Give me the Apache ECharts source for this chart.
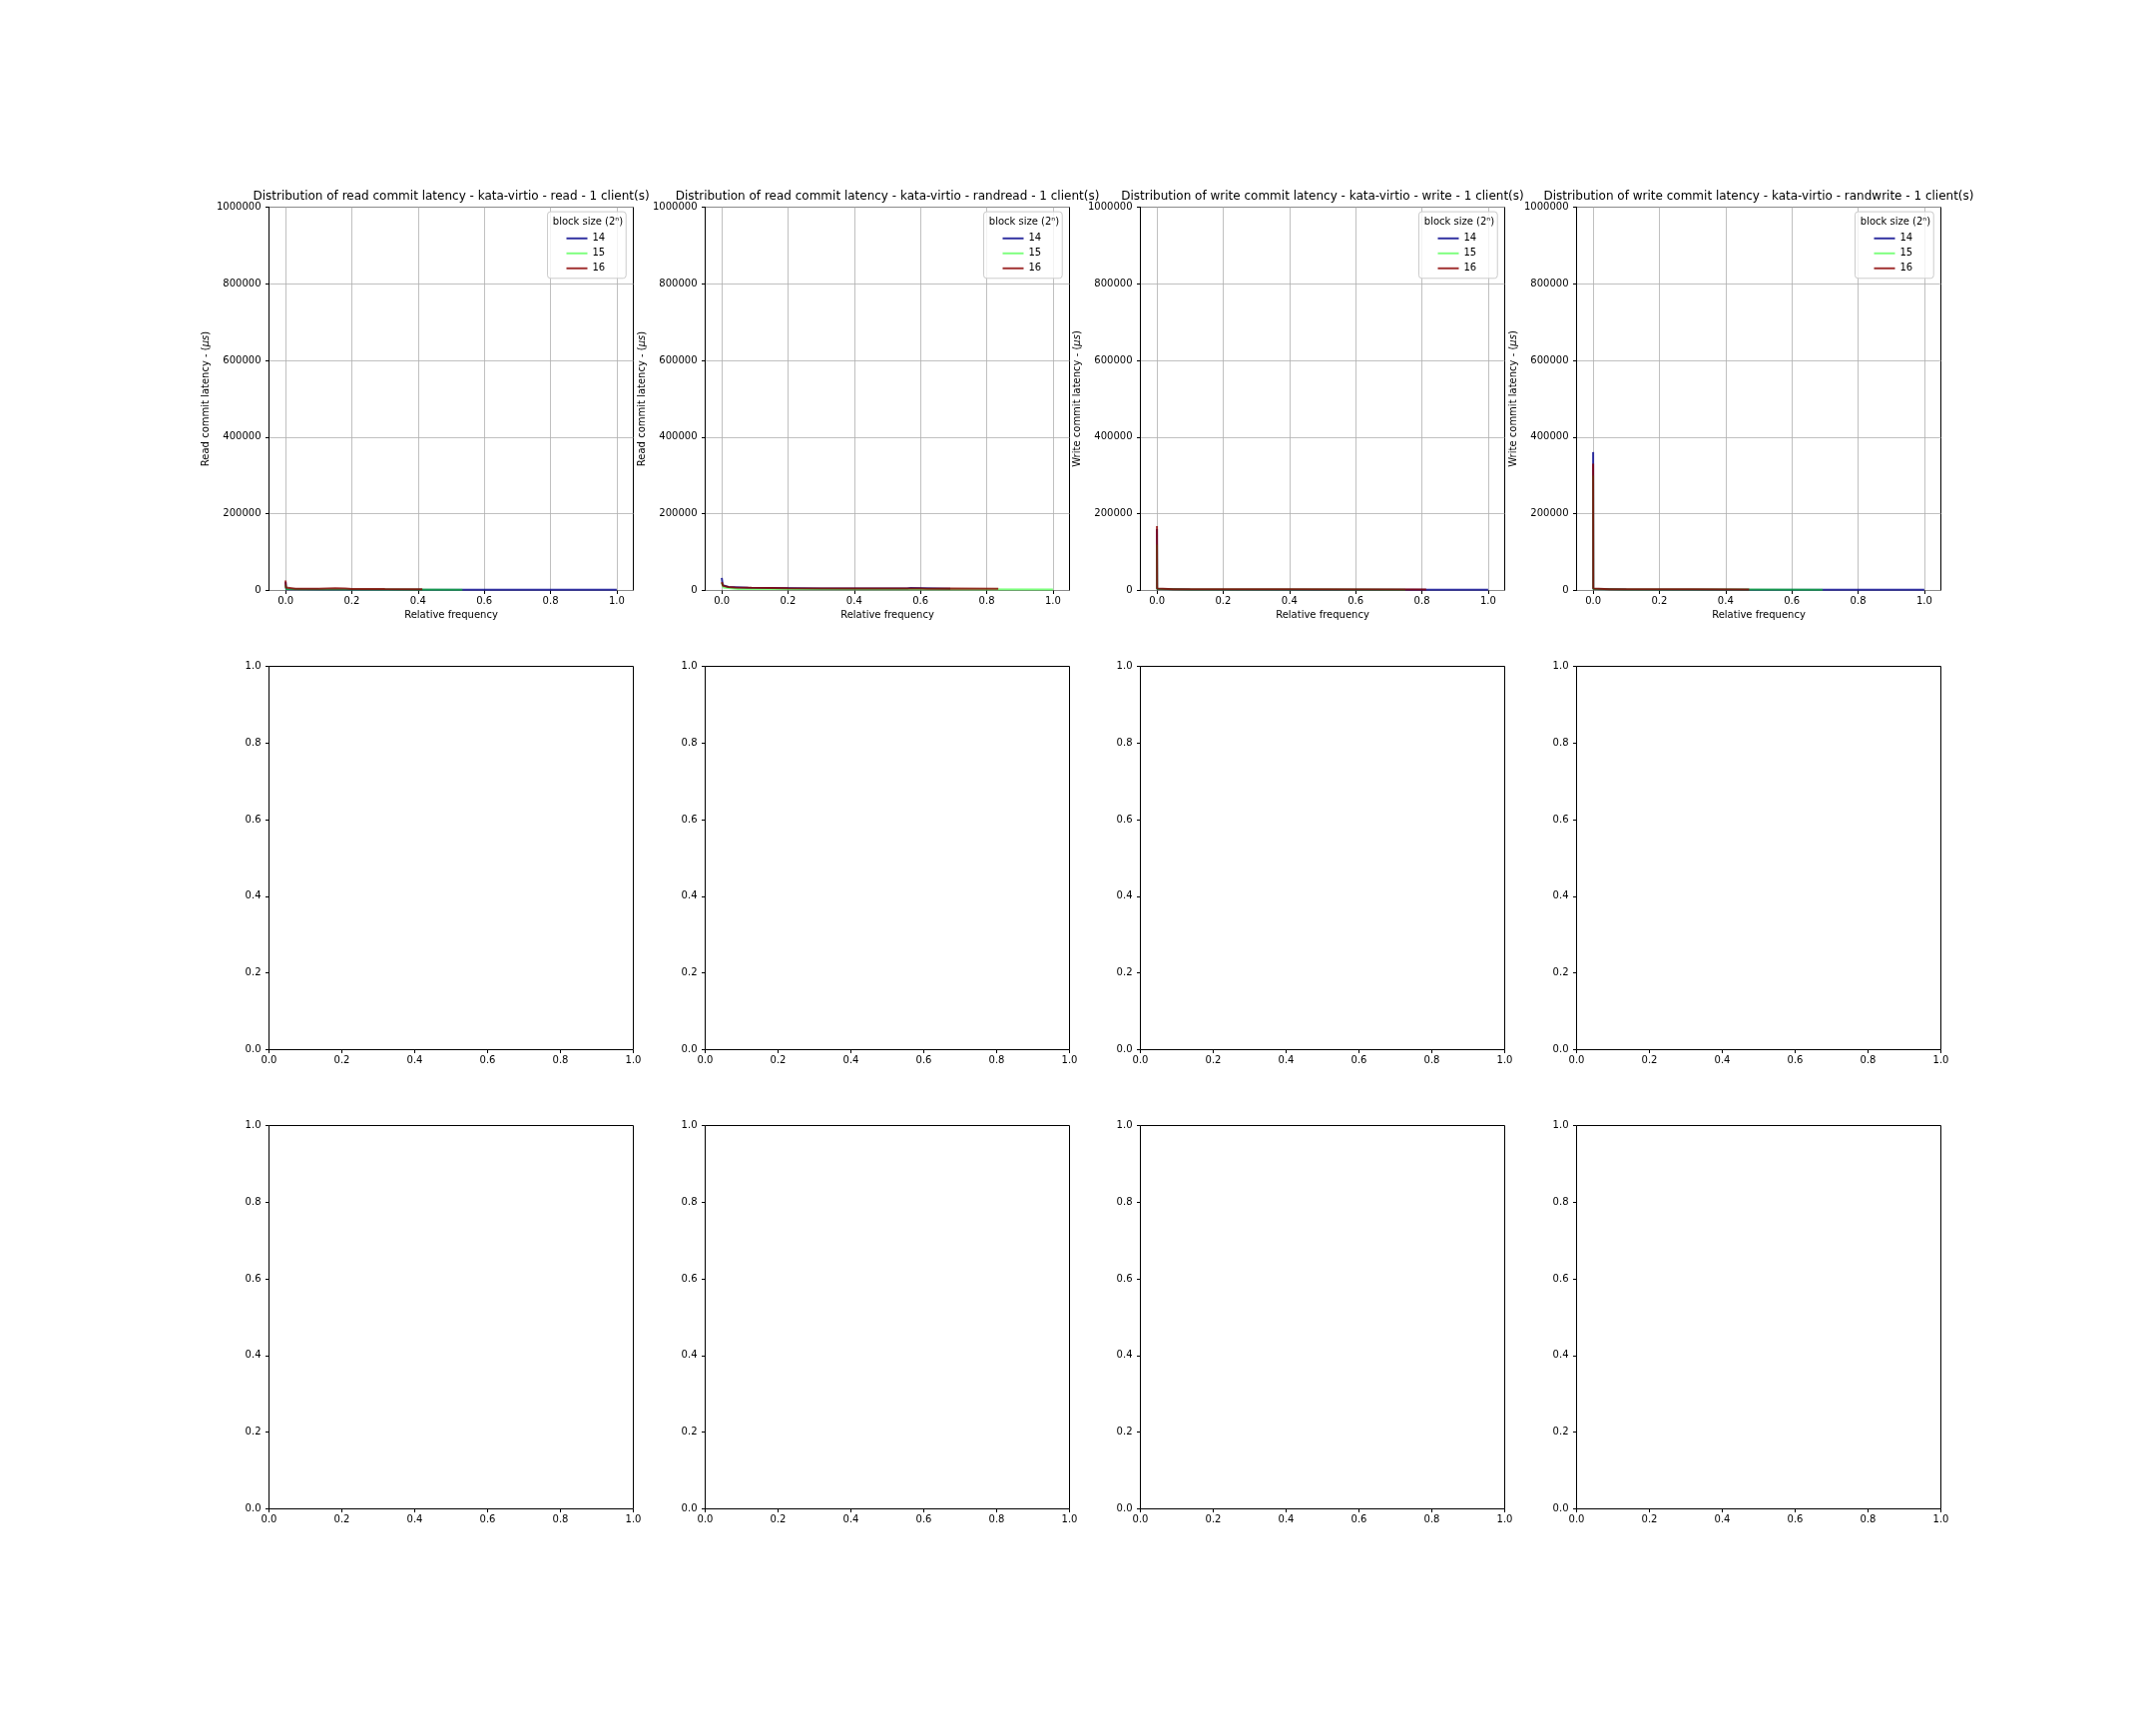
<!DOCTYPE html>
<html>
<head>
<meta charset="utf-8">
<script src="https://cdn.jsdelivr.net/npm/echarts@6/dist/echarts.min.js"></script>
<style>
html,body{margin:0;padding:0;background:#fff;}
#chart{width:2160px;height:1728px;}
</style>
</head>
<body>
<div id="chart"></div>
<script>
// ---------------- data ----------------
const blockSizes = ['14', '15', '16'];
const blockColors = ['rgba(0,0,139,0.8)', 'rgba(0,255,0,0.5)', 'rgba(139,0,0,0.8)'];

const panelTitles = [
  'Distribution of read commit latency - kata-virtio - read - 1 client(s)',
  'Distribution of read commit latency - kata-virtio - randread - 1 client(s)',
  'Distribution of write commit latency - kata-virtio - write - 1 client(s)',
  'Distribution of write commit latency - kata-virtio - randwrite - 1 client(s)'
];
const yAxisNames = ['Read', 'Read', 'Write', 'Write'];
const xAxisName = 'Relative frequency';
const legendTitle = 'block size (2ⁿ)';

// [relative frequency, latency (µs)]
const read14 = [[0, 22000], [0.002, 3500], [0.1, 2600], [0.5, 2100], [1.0, 1800]];
const read15 = [[0, 15000], [0.002, 4000], [0.05, 3000], [0.3, 2500], [0.534, 2200]];
const read16 = [[0, 26000], [0.001, 8000], [0.004, 5500], [0.03, 4800], [0.1, 4500], [0.15, 5600], [0.18, 5200], [0.2, 4200], [0.3, 3800], [0.413, 3500]];

const randread14 = [[0, 33000], [0.003, 14000], [0.02, 9000], [0.08, 7000], [0.3, 5500], [0.56, 5000], [0.57, 6500], [0.69, 4500]];
const randread15 = [[0, 20000], [0.005, 8000], [0.05, 4000], [0.5, 3000], [1.0, 2500]];
const randread16 = [[0, 22000], [0.004, 12000], [0.02, 9000], [0.04, 8000], [0.09, 7000], [0.2, 6000], [0.4, 5000], [0.6, 5500], [0.62, 4800], [0.69, 5500], [0.835, 4500]];

const write14 = [[0, 160000], [0.0005, 4000], [0.1, 2500], [0.5, 2200], [1.0, 2000]];
const write15 = [[0, 120000], [0.0005, 4000], [0.1, 2600], [0.5, 2300], [0.75, 2200]];
const write16 = [[0, 168000], [0.0005, 5000], [0.05, 3500], [0.4, 3000], [0.813, 2800]];

const randwrite14 = [[0, 361000], [0.0005, 4000], [0.1, 2500], [0.5, 2200], [1.0, 2000]];
const randwrite15 = [[0, 300000], [0.0005, 4000], [0.1, 2600], [0.4, 2300], [0.693, 2200]];
const randwrite16 = [[0, 331000], [0.0005, 5000], [0.05, 3500], [0.3, 3000], [0.471, 2800]];

const panelData = [
  [read14, read15, read16],
  [randread14, randread15, randread16],
  [write14, write15, write16],
  [randwrite14, randwrite15, randwrite16]
];

// ---------------- layout ----------------
const FONT = 'DejaVu Sans';
const colLeft = [269.5, 706.5, 1142.5, 1579.5];
const rowTop = [207.5, 667.5, 1127.5];
const PW = 365, PH = 384;

const grid = [], xAxis = [], yAxis = [], series = [], legend = [], title = [], graphic = [];
const axisLineStyle = { color: '#000', width: 1 };
const splitStyle = { color: '#b0b0b0', width: 0.8 };
const labelStyle = { fontSize: 10, color: '#000', fontFamily: FONT };

for (let i = 0; i < 4; i++) {
  const L = colLeft[i], T = rowTop[0];
  // outer grid: holds series, y axis, frame
  const gA = grid.length;
  grid.push({ left: L, top: T, width: PW, height: PH, show: true, borderColor: '#000', borderWidth: 1, backgroundColor: 'transparent' });
  const xA = xAxis.length;
  xAxis.push({ gridIndex: gA, type: 'value', min: -0.05, max: 1.05,
    axisLine: { show: false, onZero: false }, axisTick: { show: false }, axisLabel: { show: false }, splitLine: { show: false } });
  const yA = yAxis.length;
  yAxis.push({ gridIndex: gA, type: 'value', min: 0, max: 1000000, interval: 200000,
    axisLine: { show: true, onZero: false, lineStyle: axisLineStyle },
    axisTick: { show: true, length: 3.5, lineStyle: axisLineStyle },
    axisLabel: Object.assign({ margin: 8, formatter: v => String(v) }, labelStyle),
    splitLine: { show: true, lineStyle: splitStyle },
    name: yAxisNames[i] + ' commit latency - ({i|μs})', nameLocation: 'middle', nameGap: 58,
    nameTextStyle: { fontSize: 10, color: '#000', fontFamily: FONT, rich: { i: { fontStyle: 'italic', fontSize: 10, color: '#000', fontFamily: FONT } } }
  });
  // inner grid: x ticks 0..1 inside the padded range
  const gB = grid.length;
  grid.push({ left: L + PW * 0.05 / 1.1, top: T, width: PW / 1.1, height: PH, show: false });
  xAxis.push({ gridIndex: gB, type: 'value', min: 0, max: 1, interval: 0.2,
    axisLine: { show: false, onZero: false },
    axisTick: { show: true, length: 3.5, lineStyle: axisLineStyle },
    axisLabel: Object.assign({ margin: 6, formatter: v => v.toFixed(1) }, labelStyle),
    splitLine: { show: true, lineStyle: splitStyle },
    name: xAxisName, nameLocation: 'middle', nameGap: 20,
    nameTextStyle: { fontSize: 10, color: '#000', fontFamily: FONT } });
  yAxis.push({ gridIndex: gB, type: 'value', min: 0, max: 1000000, show: false, axisLine: { onZero: false } });

  for (let k = 0; k < 3; k++) {
    series.push({ type: 'line', name: blockSizes[k], xAxisIndex: xA, yAxisIndex: yA,
      data: panelData[i][k], symbol: 'none', showSymbol: false,
      lineStyle: { width: 2, color: blockColors[k] }, itemStyle: { color: blockColors[k] },
      z: 3 + k, animation: false });
  }

  title.push({ text: panelTitles[i], left: L + PW / 2, top: 190.5, textAlign: 'center', padding: 0,
    textStyle: { fontSize: 12, fontWeight: 'normal', color: '#000', fontFamily: FONT } });

  const boxRight = L + PW - 5;
  legend.push({ data: blockSizes, orient: 'vertical', left: boxRight - 81, top: T + 4.6,
    padding: [21.7, 21, 5, 19], itemGap: 5, itemWidth: 21, itemHeight: 2, icon: 'rect',
    backgroundColor: 'rgba(255,255,255,0.8)', borderColor: '#cccccc', borderWidth: 1, borderRadius: 3,
    textStyle: { fontSize: 10, color: '#000', fontFamily: FONT }, z: 10 });
  graphic.push({ type: 'text', x: boxRight - 40.5, y: T + 14.6, z: 100,
    style: { text: legendTitle, fill: '#000', font: '10px "DejaVu Sans"', textAlign: 'center', textVerticalAlign: 'middle', align: 'center', verticalAlign: 'middle' } });
}

// empty panels in rows 2 and 3
for (let r = 1; r < 3; r++) {
  for (let i = 0; i < 4; i++) {
    const g = grid.length;
    grid.push({ left: colLeft[i], top: rowTop[r], width: PW, height: PH, show: true, borderColor: '#000', borderWidth: 1, backgroundColor: 'transparent' });
    xAxis.push({ gridIndex: g, type: 'value', min: 0, max: 1, interval: 0.2,
      axisLine: { show: false, onZero: false },
      axisTick: { show: true, length: 3.5, lineStyle: axisLineStyle },
      axisLabel: Object.assign({ margin: 6, formatter: v => v.toFixed(1) }, labelStyle),
      splitLine: { show: false } });
    yAxis.push({ gridIndex: g, type: 'value', min: 0, max: 1, interval: 0.2,
      axisLine: { show: false, onZero: false },
      axisTick: { show: true, length: 3.5, lineStyle: axisLineStyle },
      axisLabel: Object.assign({ margin: 8, formatter: v => v.toFixed(1) }, labelStyle),
      splitLine: { show: false } });
  }
}

const chart = echarts.init(document.getElementById('chart'), null, { renderer: 'canvas' });
chart.setOption({
  backgroundColor: '#ffffff',
  animation: false,
  textStyle: { fontFamily: FONT },
  title, grid, xAxis, yAxis, series, legend, graphic
});
</script>
</body>
</html>
